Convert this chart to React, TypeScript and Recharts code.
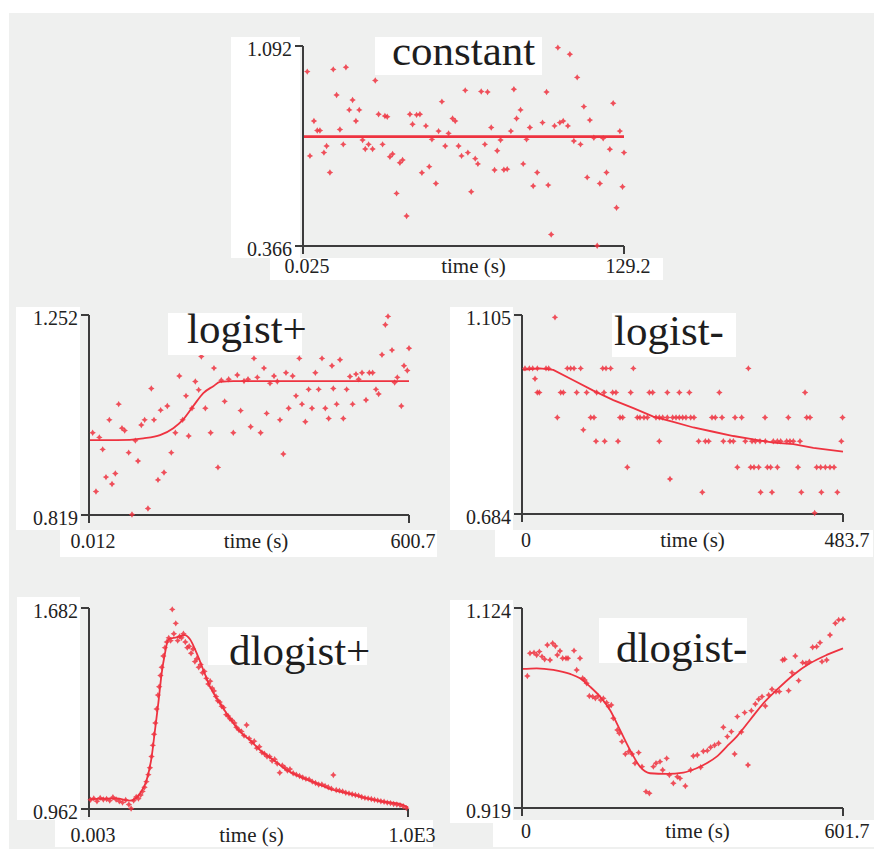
import { ComposedChart, Scatter, Line, XAxis, YAxis, Label } from 'recharts';

// ---- constant ----
const constXTicks = [0.025, 129.2];
const constXLabels = ['0.025', '129.2'];
const constYTicks = [0.366, 1.092];
const constYLabels = ['0.366', '1.092'];
const constPoints = [
  [1.74, 0.999], [2.82, 0.693], [4.43, 0.82], [5.77, 0.785], [6.84, 0.785], [8.45, 0.705], [9.52, 0.729],
  [10.86, 0.633], [12.2, 1.007], [13.54, 0.914], [14.89, 0.789], [16.23, 0.735], [17.3, 1.015], [18.64, 0.86],
  [19.98, 0.896], [21.32, 0.82], [22.66, 0.86], [24.0, 0.751], [25.08, 0.718], [26.42, 0.735], [28.03, 0.718],
  [29.1, 0.967], [30.44, 0.844], [32.05, 0.735], [32.99, 0.838], [33.93, 0.835], [35.0, 0.69], [36.07, 0.7],
  [37.68, 0.557], [39.02, 0.668], [40.1, 0.678], [41.71, 0.475], [43.05, 0.844], [44.12, 0.808], [45.73, 0.842],
  [47.07, 0.844], [47.87, 0.632], [49.48, 0.802], [50.82, 0.654], [51.9, 0.753], [53.51, 0.593], [54.58, 0.783],
  [55.92, 0.89], [57.26, 0.729], [58.6, 0.775], [60.21, 0.829], [61.28, 0.82], [62.62, 0.729], [63.83, 0.693],
  [65.31, 0.931], [66.38, 0.705], [67.72, 0.563], [69.33, 0.683], [70.4, 0.664], [71.74, 0.927], [73.22, 0.735],
  [74.29, 0.925], [75.77, 0.796], [77.11, 0.642], [78.18, 0.712], [79.52, 0.751], [80.86, 0.643], [82.2, 0.645],
  [83.68, 0.783], [84.89, 0.935], [85.96, 0.829], [87.57, 0.86], [88.64, 0.664], [89.98, 0.753], [91.32, 0.796],
  [92.66, 0.584], [94.27, 0.633], [96.42, 0.814], [98.03, 0.925], [98.7, 0.587], [99.9, 0.408], [101.25, 0.802],
  [102.59, 1.086], [103.39, 0.814], [104.73, 0.82], [106.61, 0.802], [107.41, 1.062], [109.02, 0.747], [110.36, 0.978],
  [111.7, 0.735], [113.05, 0.872], [114.39, 0.615], [115.46, 0.823], [117.07, 0.759], [118.41, 0.367], [119.48, 0.593],
  [120.82, 0.757], [122.16, 0.633], [123.5, 0.717], [124.85, 0.884], [126.19, 0.505], [127.53, 0.783], [128.6, 0.581],
  [129.2, 0.705],
];
const constFit = [[0.025, 0.763], [129.2, 0.763]];

// ---- logist+ ----
const logpXTicks = [0.012, 600.7];
const logpXLabels = ['0.012', '600.7'];
const logpYTicks = [0.819, 1.252];
const logpYLabels = ['0.819', '1.252'];
const logpPoints = [
  [6.9, 0.997], [13.1, 0.87], [19.4, 0.987], [25.7, 0.961], [31.9, 0.901], [38.2, 1.025], [43.2, 0.886],
  [49.4, 0.909], [55.7, 1.059], [61.9, 1.007], [67.0, 1.002], [74.5, 0.954], [80.7, 0.82], [87.0, 0.98],
  [92.0, 0.936], [98.2, 1.014], [104.5, 1.025], [110.7, 0.833], [117.0, 1.093], [122.0, 1.025], [129.5, 0.895],
  [134.5, 1.046], [140.8, 0.911], [147.0, 1.055], [154.5, 0.954], [162.1, 0.997], [169.6, 1.12], [175.8, 1.025],
  [182.1, 1.077], [187.1, 0.99], [193.3, 1.05], [199.6, 1.108], [205.9, 1.09], [210.9, 1.162], [218.4, 1.05],
  [228.4, 0.997], [234.6, 1.137], [242.1, 0.922], [248.4, 1.111], [254.7, 1.065], [262.2, 1.113], [270.9, 0.997],
  [278.4, 1.122], [284.7, 1.045], [291.0, 1.109], [298.5, 1.113], [303.5, 1.01], [309.7, 1.158], [316.0, 1.117],
  [322.2, 0.997], [328.5, 1.137], [333.5, 1.039], [339.8, 1.104], [347.3, 1.12], [353.5, 1.108], [358.5, 1.025],
  [364.8, 0.951], [369.8, 1.127], [374.8, 1.05], [382.3, 1.12], [388.6, 1.077], [394.8, 1.158], [399.8, 1.059],
  [406.1, 1.021], [412.3, 1.091], [418.6, 1.05], [424.9, 1.127], [431.1, 1.091], [437.4, 1.158], [443.6, 1.05],
  [449.9, 1.028], [456.1, 1.142], [458.6, 1.093], [464.9, 1.059], [471.2, 1.155], [477.4, 1.028], [483.7, 1.091],
  [489.9, 1.119], [494.9, 1.059], [501.2, 1.124], [506.2, 1.113], [512.5, 1.127], [520.0, 1.068], [526.2, 1.127],
  [532.5, 1.127], [538.7, 1.091], [543.7, 1.081], [550.0, 1.166], [556.3, 1.231], [561.3, 1.249], [568.8, 1.176],
  [573.8, 1.106], [578.8, 1.117], [586.3, 1.055], [591.3, 1.142], [597.5, 1.132], [600.7, 1.18],
];
const logpFit = [
  [0.012, 0.981], [51.9, 0.981], [102, 0.985], [133.3, 0.992], [158.3, 1.007], [177.1, 1.026], [195.8, 1.055],
  [214.6, 1.083], [233.4, 1.098], [245.9, 1.107], [270.9, 1.109], [600.7, 1.109],
];

// ---- logist- ----
const logmXTicks = [0, 483.7];
const logmXLabels = ['0', '483.7'];
const logmYTicks = [0.684, 1.105];
const logmYLabels = ['0.684', '1.105'];
const logmPoints = [
  [4.5, 0.992], [11.1, 0.992], [16.1, 0.992], [23.1, 0.992], [36.2, 0.992], [40.2, 0.992], [68.3, 0.992],
  [73.3, 0.992], [78.4, 0.992], [88.4, 0.992], [121.6, 0.992], [126.6, 0.992], [133.6, 0.992], [167.8, 0.992],
  [341.1, 0.992],
  [23.1, 0.941], [26.1, 0.941], [58.3, 0.941], [62.3, 0.941], [82.4, 0.941], [97.4, 0.941], [112.5, 0.941],
  [123.6, 0.941], [136.6, 0.941], [141.6, 0.941], [163.8, 0.941], [191.9, 0.941], [196.9, 0.941], [219.0, 0.941],
  [237.1, 0.941], [252.2, 0.941], [297.4, 0.941], [426.5, 0.941],
  [53.2, 0.888], [103.5, 0.888], [108.5, 0.888], [147.7, 0.888], [151.7, 0.888], [173.8, 0.888], [177.8, 0.888],
  [183.8, 0.888], [188.9, 0.888], [201.9, 0.888], [206.9, 0.888], [212.0, 0.888], [219.0, 0.888], [227.0, 0.888],
  [232.1, 0.888], [237.1, 0.888], [242.1, 0.888], [247.1, 0.888], [254.2, 0.888], [259.2, 0.888], [286.3, 0.888],
  [291.3, 0.888], [301.4, 0.888], [321.0, 0.888], [331.0, 0.888], [366.2, 0.888], [401.3, 0.888], [429.0, 0.888],
  [434.0, 0.888], [483.0, 0.888],
  [111.5, 0.838], [124.6, 0.838], [144.7, 0.838], [206.9, 0.838], [266.2, 0.838], [276.3, 0.838], [281.3, 0.838],
  [303.4, 0.838], [313.4, 0.838], [318.5, 0.838], [336.5, 0.838], [346.6, 0.838], [351.6, 0.838], [358.6, 0.838],
  [366.7, 0.838], [378.7, 0.838], [384.8, 0.838], [389.8, 0.838], [398.8, 0.838], [403.8, 0.838], [408.9, 0.838],
  [418.9, 0.838], [481.2, 0.838],
  [158.7, 0.783], [324.5, 0.783], [344.6, 0.783], [349.6, 0.783], [356.6, 0.783], [369.7, 0.783], [374.7, 0.783],
  [384.8, 0.783], [415.9, 0.783], [444.0, 0.783], [450.1, 0.783], [457.1, 0.783], [464.1, 0.783], [470.2, 0.783],
  [271.7, 0.73], [359.6, 0.73], [376.7, 0.73], [420.9, 0.73], [451.1, 0.73], [475.2, 0.73],
  [49.7, 1.1], [92.4, 0.862], [19.6, 0.97], [223.0, 0.758], [441.0, 0.686],
];
const logmFit = [
  [0, 0.989], [27.1, 0.992], [47.2, 0.989], [77.4, 0.967], [107.5, 0.945], [137.6, 0.925], [167.8, 0.908],
  [197.9, 0.89], [228.0, 0.879], [258.2, 0.867], [288.3, 0.858], [318.5, 0.849], [348.6, 0.842], [378.7, 0.835],
  [408.9, 0.832], [439.0, 0.824], [483.7, 0.816],
];

// ---- dlogist+ ----
const dlogpXTicks = [0.003, 1000];
const dlogpXLabels = ['0.003', '1.0E3'];
const dlogpYTicks = [0.962, 1.682];
const dlogpYLabels = ['0.962', '1.682'];
const dlogpPoints = [
  [5, 0.995], [15, 1.0], [25, 0.99], [35, 1.002], [45, 0.996], [55, 0.998], [65, 0.992], [75, 1.004], [85, 0.996],
  [95, 0.99], [105, 0.985], [115, 0.994], [125, 0.978], [132, 0.964], [140, 0.992], [148, 1.005], [155, 0.999],
  [162, 1.012], [168, 1.025], [174, 1.04], [180, 1.06], [186, 1.085], [191, 1.11], [196, 1.15], [200, 1.19],
  [204, 1.23], [208, 1.27], [212, 1.32], [216, 1.37], [220, 1.4], [224, 1.44], [228, 1.47], [233, 1.51],
  [238, 1.54], [244, 1.56], [250, 1.575], [256, 1.565], [261, 1.677], [266, 1.59], [272, 1.627], [278, 1.565],
  [284, 1.58], [290, 1.575], [296, 1.59], [302, 1.56], [308, 1.54], [314, 1.545], [320, 1.52], [326, 1.535],
  [332, 1.49], [338, 1.5], [344, 1.47], [350, 1.48], [356, 1.45], [362, 1.455], [368, 1.43], [374, 1.41],
  [380, 1.42], [386, 1.395], [392, 1.385], [398, 1.365], [404, 1.35], [410, 1.345], [416, 1.33], [422, 1.325],
  [430, 1.3], [436, 1.295], [442, 1.285], [448, 1.28], [456, 1.27], [462, 1.255], [470, 1.245], [478, 1.24],
  [486, 1.225], [494, 1.263], [502, 1.215], [510, 1.2], [518, 1.205], [526, 1.18], [534, 1.185], [542, 1.165],
  [550, 1.16], [558, 1.15], [566, 1.15], [574, 1.135], [582, 1.14], [590, 1.125], [598, 1.092], [606, 1.118],
  [614, 1.11], [622, 1.1], [630, 1.105], [640, 1.09], [650, 1.085], [660, 1.08], [670, 1.075], [680, 1.07],
  [690, 1.068], [700, 1.06], [710, 1.055], [720, 1.05], [730, 1.05], [740, 1.045], [750, 1.04], [760, 1.035],
  [766, 1.084], [775, 1.03], [785, 1.028], [795, 1.025], [805, 1.02], [815, 1.018], [825, 1.015], [835, 1.012],
  [845, 1.01], [855, 1.005], [865, 1.002], [875, 1.0], [885, 0.998], [895, 0.995], [905, 0.993], [915, 0.99],
  [925, 0.988], [935, 0.985], [945, 0.983], [955, 0.98], [965, 0.978], [975, 0.976], [985, 0.972], [995, 0.965],
];
const dlogpFit = [
  [0.003, 0.997], [86.7, 1.0], [128.5, 0.992], [159.9, 1.018], [180.8, 1.066], [196.4, 1.149], [206.9, 1.245],
  [217.3, 1.341], [227.8, 1.448], [238.2, 1.52], [248.7, 1.57], [274.8, 1.577], [300.9, 1.585], [316.6, 1.57],
  [337.5, 1.52], [358.4, 1.46], [379.3, 1.4], [410.6, 1.341], [442.0, 1.287], [473.3, 1.239], [504.7, 1.209],
  [536.0, 1.173], [577.8, 1.138], [619.6, 1.102], [661.4, 1.078], [713.7, 1.054], [765.9, 1.03], [818.2, 1.016],
  [870.4, 1.0], [922.6, 0.988], [974.9, 0.98], [1000, 0.968],
];

// ---- dlogist- ----
const dlogmXTicks = [0, 601.7];
const dlogmXLabels = ['0', '601.7'];
const dlogmYTicks = [0.919, 1.124];
const dlogmYLabels = ['0.919', '1.124'];
const dlogmPoints = [
  [10.0, 1.0543], [15.0, 1.0776], [22.5, 1.0783], [27.5, 1.0759], [32.5, 1.0793], [37.5, 1.0742], [42.5, 1.0714],
  [47.5, 1.0861], [52.5, 1.0707], [57.5, 1.0878], [62.5, 1.0851], [66.2, 1.0759], [71.2, 1.08], [76.2, 1.0725],
  [82.5, 1.0725], [86.2, 1.0725], [97.5, 1.0803], [102.5, 1.0605], [108.7, 1.0725], [113.7, 1.052], [117.5, 1.0502],
  [121.2, 1.0468], [126.2, 1.0338], [132.5, 1.0332], [137.5, 1.0314], [142.5, 1.0338], [147.5, 1.0297],
  [152.5, 1.0314], [158.7, 1.027], [162.4, 1.0229], [167.4, 1.0246], [171.2, 1.011], [178.7, 0.999],
  [182.4, 0.9956], [187.4, 0.987], [193.7, 0.9744], [199.9, 0.9768], [206.2, 0.9744], [211.8, 0.9648],
  [218.7, 0.9758], [224.9, 0.9614], [232.4, 0.9358], [238.7, 0.9341], [246.2, 0.9614], [251.2, 0.9648],
  [258.7, 0.9665], [263.7, 0.958], [271.2, 0.9699], [276.2, 0.9529], [283.7, 0.9443], [291.2, 0.9511],
  [296.2, 0.9494], [306.2, 0.9416], [316.1, 0.958], [321.1, 0.9723], [328.6, 0.9734], [334.9, 0.9607],
  [339.9, 0.9771], [347.4, 0.9778], [353.6, 0.9812], [361.1, 0.9833], [368.6, 0.9853], [377.4, 1.0017],
  [384.9, 0.9922], [392.4, 0.9973], [398.6, 0.9744], [403.6, 1.0127], [411.1, 0.9969], [417.4, 1.0168],
  [423.6, 0.9631], [429.9, 1.0188], [437.4, 1.0256], [443.6, 1.0304], [449.9, 1.0332], [456.1, 1.0236],
  [462.4, 1.0349], [468.6, 1.0407], [476.1, 1.0383], [482.3, 1.0383], [488.6, 1.0707], [492.3, 1.0714],
  [499.8, 1.0393], [506.1, 1.0578], [512.3, 1.0748], [518.6, 1.0496], [526.1, 1.068], [532.3, 1.0673],
  [538.6, 1.069], [544.8, 1.0837], [552.3, 1.0844], [558.6, 1.0885], [562.3, 1.069], [571.1, 1.0707],
  [577.3, 1.0964], [587.3, 1.1083], [593.6, 1.1118], [601.7, 1.1124],
];
const dlogmFit = [
  [0, 1.0615], [27.5, 1.0622], [58.7, 1.0605], [90.0, 1.0564], [108.7, 1.052], [127.5, 1.0434], [146.2, 1.0332],
  [164.9, 1.0195], [183.7, 0.999], [202.4, 0.9785], [221.2, 0.9614], [239.9, 0.9546], [271.2, 0.9539],
  [302.4, 0.9553], [327.4, 0.9597], [346.1, 0.9648], [364.9, 0.9717], [383.6, 0.9819], [402.4, 0.9922],
  [427.4, 1.0092], [452.4, 1.0263], [477.4, 1.04], [508.6, 1.0554], [539.8, 1.0673], [571.1, 1.0759],
  [601.7, 1.0827],
];

const W = 875;
const H = 849;
const FONT = '"Liberation Serif", "Times New Roman", serif';
const TICK_SIZE = 20;
const TITLE_SIZE = 43;
const RED = '#ee3340';
const AXIS = '#3c3c3c';

const toXY = (arr: number[][]) => arr.map(([x, y]) => ({ x, y }));

const Sparkle = (props: any) => {
  const { cx, cy } = props;
  if (cx == null || cy == null) return null;
  const r = 3.2;
  const s = 1.2;
  return (
    <path
      d={`M${cx},${cy - r}L${cx + s},${cy - s}L${cx + r},${cy}L${cx + s},${cy + s}L${cx},${cy + r}L${cx - s},${cy + s}L${cx - r},${cy}L${cx - s},${cy - s}Z`}
      fill={RED}
      fillOpacity={0.85}
    />
  );
};

type PanelProps = {
  box: { x0: number; x1: number; y0: number; y1: number };
  xTicks: number[];
  xLabels: string[];
  yTicks: number[];
  yLabels: string[];
  points: number[][];
  fit: number[][];
  curve: 'linear' | 'monotone';
  lineWidth: number;
  xBase: number;
  titleDx: number;
};

function Panel({ box, xTicks, xLabels, yTicks, yLabels, points, fit, curve, lineWidth, xBase, titleDx }: PanelProps) {
  const yAxisW = 70;
  const xAxisH = 45;
  const margin = { left: box.x0 - yAxisW, right: W - box.x1, top: box.y0, bottom: H - box.y1 - xAxisH };

  const XTick = (p: any) => {
    const i = xTicks.indexOf(p.payload.value);
    return (
      <text x={p.x + 4} y={box.y1 + xBase} textAnchor="middle" fontFamily={FONT} fontSize={TICK_SIZE} fill="#222">
        {xLabels[i]}
      </text>
    );
  };
  const YTick = (p: any) => {
    const i = yTicks.indexOf(p.payload.value);
    return (
      <text x={box.x0 - 11} y={p.y + 10} textAnchor="end" fontFamily={FONT} fontSize={TICK_SIZE} fill="#222">
        {yLabels[i]}
      </text>
    );
  };

  return (
    <div style={{ position: 'absolute', left: 0, top: 0 }}>
      <ComposedChart width={W} height={H} margin={margin}>
        <XAxis
          type="number"
          dataKey="x"
          domain={[xTicks[0], xTicks[1]]}
          ticks={xTicks}
          interval={0}
          height={xAxisH}
          tickSize={8}
          stroke={AXIS}
          strokeWidth={2}
          tickLine={{ stroke: AXIS, strokeWidth: 2 }}
          tick={<XTick />}
        >
          <Label
            content={(lp: any) => {
              const vb = lp.viewBox;
              return (
                <text
                  x={vb.x + vb.width / 2 + titleDx}
                  y={box.y1 + xBase}
                  textAnchor="middle"
                  fontFamily={FONT}
                  fontSize={TICK_SIZE + 1}
                  fill="#222"
                >
                  time (s)
                </text>
              );
            }}
          />
        </XAxis>
        <YAxis
          type="number"
          dataKey="y"
          domain={[yTicks[0], yTicks[1]]}
          ticks={yTicks}
          interval={0}
          width={yAxisW}
          tickSize={8}
          stroke={AXIS}
          strokeWidth={2}
          tickLine={{ stroke: AXIS, strokeWidth: 2 }}
          tick={<YTick />}
        />
        <Scatter data={toXY(points)} shape={<Sparkle />} isAnimationActive={false} />
        <Line
          data={toXY(fit)}
          dataKey="y"
          type={curve}
          stroke={RED}
          strokeWidth={lineWidth}
          dot={false}
          activeDot={false}
          isAnimationActive={false}
        />
      </ComposedChart>
    </div>
  );
}

const labelBoxes = [
  [231, 37, 69, 221], [270, 258, 393, 22],
  [16, 307, 64, 223], [60, 530, 377, 27],
  [450, 307, 63, 223], [495, 530, 378, 27],
  [17, 597, 63, 223], [55, 820, 378, 27],
  [450, 600, 63, 223], [493, 820, 382, 27],
];

const titles = [
  { text: 'constant', box: [375, 37, 167, 38], x: 392, y: 65 },
  { text: 'logist+', box: [168, 313, 134, 42], x: 187, y: 343 },
  { text: 'logist-', box: [612, 313, 124, 44], x: 614, y: 345 },
  { text: 'dlogist+', box: [208, 627, 159, 38], x: 229, y: 665 },
  { text: 'dlogist-', box: [599, 618, 148, 45], x: 616, y: 662 },
];

export default function App() {
  return (
    <div style={{ position: 'fixed', left: 0, top: 0, width: W, height: H, background: '#fff', overflow: 'hidden' }}>
      <div style={{ position: 'absolute', left: 9, top: 13, width: 865, height: H - 13, background: '#eff0ef' }} />
      {labelBoxes.map(([x, y, w, h], i) => (
        <div key={i} style={{ position: 'absolute', left: x, top: y, width: w, height: h, background: '#fff' }} />
      ))}
      <Panel box={{ x0: 303, x1: 624, y0: 46, y1: 246 }} xTicks={constXTicks} xLabels={constXLabels}
        yTicks={constYTicks} yLabels={constYLabels} points={constPoints} fit={constFit}
        curve="linear" lineWidth={2.6} xBase={27} titleDx={10} />
      <Panel box={{ x0: 89, x1: 409, y0: 315, y1: 515 }} xTicks={logpXTicks} xLabels={logpXLabels}
        yTicks={logpYTicks} yLabels={logpYLabels} points={logpPoints} fit={logpFit}
        curve="monotone" lineWidth={1.8} xBase={33} titleDx={7} />
      <Panel box={{ x0: 522, x1: 843, y0: 315, y1: 514 }} xTicks={logmXTicks} xLabels={logmXLabels}
        yTicks={logmYTicks} yLabels={logmYLabels} points={logmPoints} fit={logmFit}
        curve="linear" lineWidth={1.8} xBase={33} titleDx={10} />
      <Panel box={{ x0: 89, x1: 408, y0: 608, y1: 809 }} xTicks={dlogpXTicks} xLabels={dlogpXLabels}
        yTicks={dlogpYTicks} yLabels={dlogpYLabels} points={dlogpPoints} fit={dlogpFit}
        curve="monotone" lineWidth={1.8} xBase={33} titleDx={3} />
      <Panel box={{ x0: 522, x1: 843, y0: 608, y1: 808 }} xTicks={dlogmXTicks} xLabels={dlogmXLabels}
        yTicks={dlogmYTicks} yLabels={dlogmYLabels} points={dlogmPoints} fit={dlogmFit}
        curve="monotone" lineWidth={1.8} xBase={30} titleDx={15} />
      <svg width={W} height={H} style={{ position: 'absolute', left: 0, top: 0, pointerEvents: 'none' }}>
        {titles.map((t, i) => (
          <g key={i}>
            <rect x={t.box[0]} y={t.box[1]} width={t.box[2]} height={t.box[3]} fill="#fff" />
            <text x={t.x} y={t.y} fontFamily={FONT} fontSize={TITLE_SIZE} fill="#1e1e1e">{t.text}</text>
          </g>
        ))}
      </svg>
    </div>
  );
}
